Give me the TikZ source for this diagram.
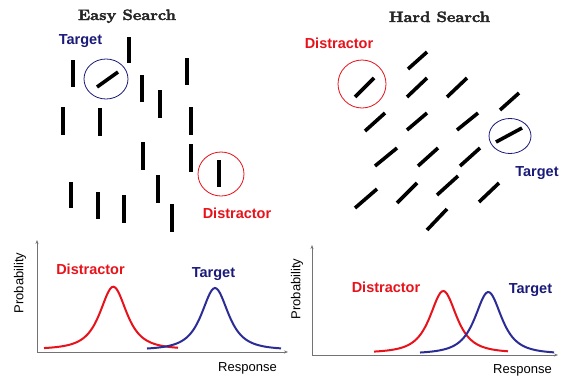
\documentclass[tikz,border=0pt]{standalone}
\usepackage{fontspec}
\setsansfont{Liberation Sans}
\newfontfamily\headfont[BoldFeatures={FakeBold=2.4}]{Latin Modern Roman}
\usetikzlibrary{arrows.meta,shapes.geometric}

\definecolor{distred}{RGB}{232,18,26}
\definecolor{tgtblue}{RGB}{26,26,122}
\definecolor{curveblue}{RGB}{44,44,150}
\definecolor{axisgray}{RGB}{115,115,115}

\tikzset{
  bar/.style={line width=3.6pt, black},
  ring/.style={draw, ellipse, line width=0.8pt, inner sep=0pt},
  title/.style={font=\headfont\bfseries\fontsize{15}{18}\selectfont, text=black!85, inner sep=0pt, anchor=base},
  redlab/.style={font=\sffamily\bfseries\fontsize{14.5}{17}\selectfont, text=distred, inner sep=0pt, anchor=base},
  bluelab/.style={font=\sffamily\bfseries\fontsize{14.5}{17}\selectfont, text=tgtblue, inner sep=0pt, anchor=base},
  axlab/.style={font=\sffamily\fontsize{13}{15}\selectfont, inner sep=0pt},
  axis/.style={draw=axisgray, line width=1pt, -{Stealth[length=4pt,width=3pt]}},
  redcurve/.style={distred, line width=2pt, smooth, samples=80},
  bluecurve/.style={curveblue, line width=2pt, smooth, samples=80},
}

% bell-shaped response density: baseline, height, centre
\newcommand{\bellat}[4]{#1 - #2/((1+((#4-#3)/20.5)^2)^1.5)}

\begin{document}
\begin{tikzpicture}[x=1pt, y=-1pt]
  \fill[white] (0,0) rectangle (561,375);
  \useasboundingbox (0,0) rectangle (561,375);

  % ---------------- Easy search panel ----------------
  \node[title] (etitle) at (127,20) {\scalebox{1.1}[1]{Easy Search}};

  \foreach \x/\ya/\yb in {73/60/87, 129/37/63, 142/75/102, 160/90/118, 187/58/85,
                          63/107/135, 100/108/136, 191/107/135, 143/142/170,
                          191/144/172, 71/182/208, 98/192/219, 124/195/223,
                          158/175/203, 172/204/232}
    \draw[bar] (\x,\ya) -- (\x,\yb);

  % odd one out (tilted) and a plain vertical bar
  \draw[bar] (97,87) -- (118,72);
  \draw[bar] (219,160) -- (219,187);

  \node[ring, draw=tgtblue, minimum width=44pt, minimum height=40pt] (etring) at (106,79) {};
  \node[ring, draw=distred, minimum width=46pt, minimum height=44pt] (edring) at (221,174) {};

  \node[bluelab] (etlab) at (80.5,44) {Target};
  \node[redlab] (edlab) at (237,218) {Distractor};

  % ---------------- Hard search panel ----------------
  \node[title] (htitle) at (439.5,22) {\scalebox{1.1}[1]{Hard Search}};

  \foreach \xa/\ya/\xb/\yb in {408/69/427/52, 407/97/427/78, 447/97/467/78,
                               500/110/519/93, 365/131/385/113, 407/130/427/113,
                               457/130/478/113, 375/166/397/148, 418/166/438/148,
                               460/166/480/148, 355/208/377/189, 397/203/417/183,
                               437/195/458/176, 479/202/499/183, 427/230/447/209}
    \draw[bar] (\xa,\ya) -- (\xb,\yb);

  \draw[bar] (355,97) -- (374,78);
  \draw[bar] (496,142) -- (522,128);

  \node[ring, draw=distred, minimum width=48pt, minimum height=48pt] (hdring) at (362,84) {};
  \node[ring, draw=tgtblue, minimum width=42pt, minimum height=35pt] (htring) at (510,136) {};

  \node[redlab] (hdlab) at (339,48) {Distractor};
  \node[bluelab] (htlab) at (537,176) {Target};

  % ---------------- Easy search response curves ----------------
  \coordinate (eo) at (37,352);
  \coordinate (ey) at (37,240);
  \coordinate (ex) at (288,352);
  \draw[axis] (eo) -- (ey);
  \draw[axis] (eo) -- (ex);

  \node[axlab, rotate=90] (eprob) at (20,283) {Probability};
  \node[axlab, anchor=base] (eresp) at (247.5,371) {Response};

  \draw[redcurve] plot[domain=44:178] (\x, {\bellat{349.5}{62.8}{113.3}{\x}});
  \draw[bluecurve] plot[domain=147:281] (\x, {\bellat{350}{62}{215}{\x}});

  \node[redlab] (epdlab) at (90.5,274) {Distractor};
  \node[bluelab] (eptlab) at (213.5,277) {Target};

  % ---------------- Hard search response curves ----------------
  \coordinate (ho) at (312,355);
  \coordinate (hy) at (312,245);
  \coordinate (hx) at (558,355);
  \draw[axis] (ho) -- (hy);
  \draw[axis] (ho) -- (hx);

  \node[axlab, rotate=90] (hprob) at (297,289) {Probability};
  \node[axlab, anchor=base] (hresp) at (522.5,373) {Response};

  \draw[redcurve] plot[domain=374:508] (\x, {\bellat{353}{62}{443.3}{\x}});
  \draw[bluecurve] plot[domain=420:554] (\x, {\bellat{354}{62}{488.3}{\x}});

  \node[redlab] (hpdlab) at (386,292) {Distractor};
  \node[bluelab] (hptlab) at (530.5,293) {Target};
\end{tikzpicture}
\end{document}
